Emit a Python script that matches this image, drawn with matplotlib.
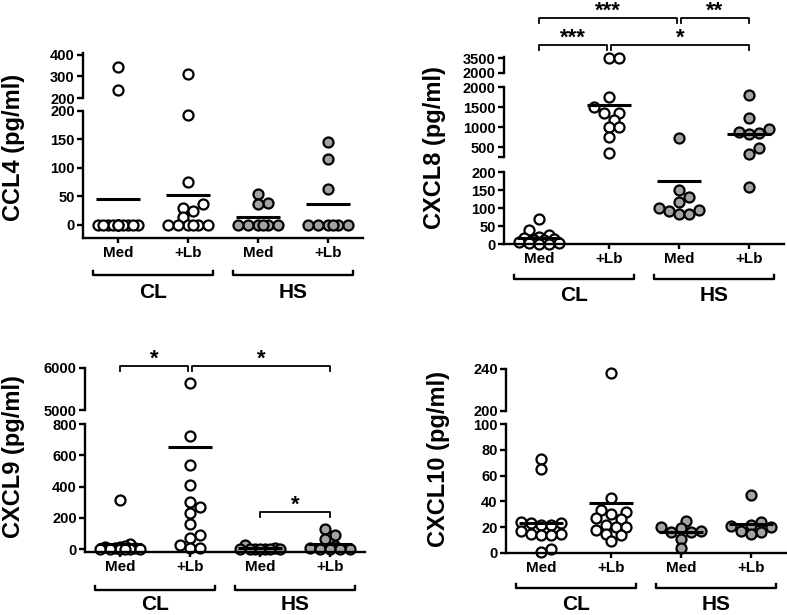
import numpy as np
import matplotlib
matplotlib.use("Agg")
import matplotlib.pyplot as plt
import matplotlib.transforms as mtransforms

plt.rcParams['font.family'] = ['Liberation Sans', 'DejaVu Sans']
plt.rcParams['font.weight'] = 'bold'

W, H = 787, 615

# groupes et conditions
groups = ["Med", "+Lb", "Med", "+Lb"]
sites = ["CL", "HS"]

# valeurs (pg/ml)
ccl4_cl_med = [345, 235, 0, 0, 0, 0, 0, 0, 0, 0, 0, 0, 0]
ccl4_cl_lb = [310, 193, 75, 37, 30, 25, 14, 0, 0, 0, 0, 0, 0]
ccl4_hs_med = [54, 38, 37, 0, 0, 0, 0, 0, 0]
ccl4_hs_lb = [145, 115, 63, 0, 0, 0, 0, 0, 0]

cxcl8_cl_med = [70, 40, 25, 20, 18, 15, 12, 10, 5, 3, 2, 0, 0]
cxcl8_cl_lb = [3500, 3500, 1760, 1490, 1360, 1340, 1175, 990, 990, 740, 340]
cxcl8_hs_med = [730, 150, 130, 116, 101, 94, 93, 82, 82]
cxcl8_hs_lb = [1800, 1217, 942, 883, 842, 825, 483, 317, 157]

cxcl9_cl_med = [314, 30, 20, 15, 10, 5, 5, 0, 0, 0, 0, 0, 0]
cxcl9_cl_lb = [5635, 724, 538, 410, 303, 267, 229, 160, 90, 72, 26, 4, 4]
cxcl9_hs_med = [25, 5, 3, 2, 0, 0, 0, 0, 0]
cxcl9_hs_lb = [126, 88, 64, 20, 5, 3, 2, 0, 0]

cxcl10_cl_med = [73, 65, 24, 23, 23, 22, 22, 17, 15, 15, 14, 14, 3, 1]
cxcl10_cl_lb = [236, 43, 33, 32, 30, 27, 26, 22, 20, 20, 18, 15, 14, 9]
cxcl10_hs_med = [25, 20, 19, 17, 16, 16, 11, 4]
cxcl10_hs_lb = [45, 24, 22, 21, 20, 17, 16, 15]

# comparaisons : (groupe i, groupe j, etoiles)
cxcl8_stats_top = [(0, 2, "***"), (2, 3, "**")]
cxcl8_stats_low = [(0, 1, "***"), (1, 3, "*")]
cxcl9_stats_top = [(0, 1, "*"), (1, 3, "*")]
cxcl9_stats_hs = [(2, 3, "*")]

# mise en page en pixels : segments (haut, bas, ylim, ticks, ticks mineurs)
panels = [
    dict(ylabel="CCL4 (pg/ml)", data=[ccl4_cl_med, ccl4_cl_lb, ccl4_hs_med, ccl4_hs_lb],
         left=83, ylab=(14, 147), gb=275, gl=293,
         segs=[(53, 98, (200, 409), [200, 300, 400], []),
               (111, 238, (-23, 200), [0, 50, 100, 150, 200], [])],
         stats=[]),
    dict(ylabel="CXCL8 (pg/ml)", data=[cxcl8_cl_med, cxcl8_cl_lb, cxcl8_hs_med, cxcl8_hs_lb],
         left=504, ylab=(434, 148), gb=279, gl=295,
         segs=[(57, 73, (2000, 3600), [2000, 3500], []),
               (87, 157, (250, 2000), [500, 1000, 1500, 2000], [250]),
               (172, 244, (0, 200), [0, 50, 100, 150, 200], [])],
         stats=[(cxcl8_stats_top, 18), (cxcl8_stats_low, 45)]),
    dict(ylabel="CXCL9 (pg/ml)", data=[cxcl9_cl_med, cxcl9_cl_lb, cxcl9_hs_med, cxcl9_hs_lb],
         left=85, ylab=(14, 457), gb=590, gl=604,
         segs=[(368, 410, (5000, 6000), [5000, 6000], []),
               (424, 552, (-19, 800), [0, 200, 400, 600, 800], [])],
         stats=[(cxcl9_stats_top, 366), (cxcl9_stats_hs, 512)]),
    dict(ylabel="CXCL10 (pg/ml)", data=[cxcl10_cl_med, cxcl10_cl_lb, cxcl10_hs_med, cxcl10_hs_lb],
         left=506, ylab=(438, 459), gb=588, gl=605,
         segs=[(369, 411, (200, 240), [200, 240], []),
               (424, 553, (0, 100), [0, 20, 40, 60, 80, 100], [])],
         stats=[]),
]

fills = ['white', 'white', '#a3a3a3', '#a3a3a3']


def fy(ypx):
    return 1 - ypx / H


def swarm(ys, diam=11.0, step=5.0, half=22.0, gap=0.8):
    # petit beeswarm en pixels pour ecarter les points
    cands = [0.0]
    k = 1
    while k * step <= half:
        cands += [k * step, -k * step]
        k += 1
    offs = np.zeros(len(ys))
    placed = []
    for idx in np.argsort(ys, kind='stable'):
        y = ys[idx]
        best, best_d = 0.0, -1
        for c in cands:
            d = min([np.hypot(c - px, y - py) for px, py in placed], default=1e9)
            if d >= diam * gap:
                best = c
                break
            if d > best_d:
                best_d, best = d, c
        offs[idx] = best
        placed.append((best, y))
    return offs


fig = plt.figure(figsize=(W / 100, H / 100), dpi=100)

for p in panels:
    axes = []
    for top, bot, ylim, ticks, minor in p['segs']:
        ax = fig.add_axes([p['left'] / W, fy(bot), 280 / W, (bot - top) / H])
        ax.set_xlim(-0.5, 3.5)
        ax.set_ylim(*ylim)
        ax.patch.set_visible(False)
        for s in ['top', 'right', 'bottom']:
            ax.spines[s].set_visible(False)
        ax.spines['left'].set_linewidth(1.7)
        ax.set_yticks(ticks)
        ax.set_yticks(minor, minor=True)
        ax.tick_params(axis='y', which='both', direction='out', length=4.5, width=1.7,
                       labelsize=10.5, pad=1.5)
        ax.set_xticks([])
        axes.append(ax)
    bottom = axes[-1]
    bottom.spines['bottom'].set_visible(True)
    bottom.spines['bottom'].set_linewidth(1.7)
    bottom.set_xticks(range(4))
    bottom.set_xticklabels(groups, fontsize=11, fontweight='bold')
    bottom.tick_params(axis='x', direction='out', length=3.5, width=1.7, pad=2.5)

    pxu = bottom.transData.transform((1, 0))[0] - bottom.transData.transform((0, 0))[0]

    def seg_of(v):
        for i in range(len(axes) - 1, -1, -1):
            lo, hi = axes[i].get_ylim()
            if lo <= v <= hi:
                return i
        return 0

    for gi, vals in enumerate(p['data']):
        vals = np.array(vals, dtype=float)
        sidx = np.array([seg_of(v) for v in vals])
        ypx = np.array([axes[s].transData.transform((0, v))[1] for s, v in zip(sidx, vals)])
        xs = gi + swarm(ypx) / pxu
        for si, ax in enumerate(axes):
            m = sidx == si
            if m.any():
                ax.scatter(xs[m], vals[m], s=52, facecolor=fills[gi], edgecolor='black',
                           linewidth=1.6, clip_on=False, zorder=2.2)
        mean = vals.mean()
        axes[seg_of(mean)].plot([gi - 0.32, gi + 0.32], [mean, mean], color='black', lw=2.2,
                                solid_capstyle='butt', zorder=4)

    # accolades des groupes CL / HS
    tr = mtransforms.blended_transform_factory(bottom.transData, fig.transFigure)
    for k, site in enumerate(sites):
        x0, x1 = 2 * k - 0.36, 2 * k + 1.36
        fig.lines.append(plt.Line2D([x0, x0, x1, x1],
                                    [fy(p['gb'] - 4), fy(p['gb']), fy(p['gb']), fy(p['gb'] - 4)],
                                    transform=tr, color='black', lw=1.7))
        fig.text(2 * k + 0.5, fy(p['gl']), site, transform=tr, ha='center', va='center',
                 fontsize=15, fontweight='bold')

    # barres de significativite
    for comps, ybar in p['stats']:
        ends = [c[0] for c in comps] + [c[1] for c in comps]
        for i, j, lab in comps:
            a = i + (0.03 if ends.count(i) > 1 else 0)
            b = j - (0.03 if ends.count(j) > 1 else 0)
            fig.lines.append(plt.Line2D([a, a, b, b],
                                        [fy(ybar + 5), fy(ybar), fy(ybar), fy(ybar + 5)],
                                        transform=tr, color='black', lw=1.3))
            fig.text((a + b) / 2, fy(ybar - 1), lab, transform=tr, ha='center',
                     va='baseline', fontsize=16, fontweight='bold')

    fig.text(p['ylab'][0] / W, fy(p['ylab'][1]), p['ylabel'], rotation=90, ha='center',
             va='center', fontsize=17, fontweight='bold')

fig.savefig("out.png", dpi=100)
